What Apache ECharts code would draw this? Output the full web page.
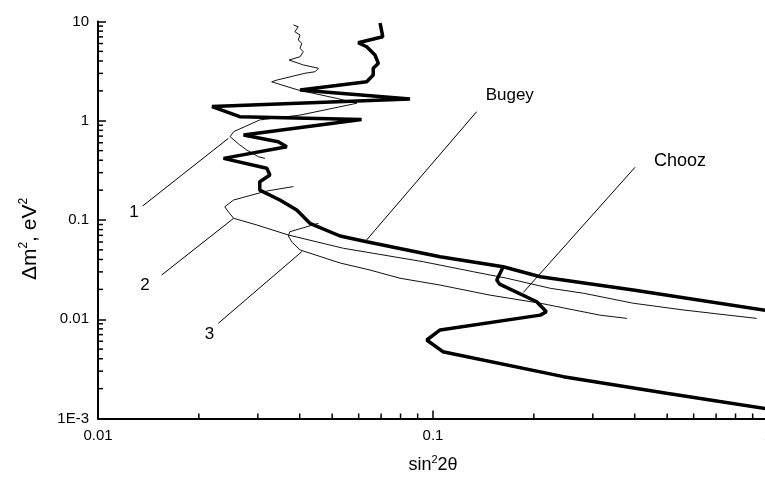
<!DOCTYPE html>
<html>
<head>
<meta charset="utf-8">
<script src="https://cdn.jsdelivr.net/npm/echarts@6/dist/echarts.min.js"></script>
<style>
  html, body { margin: 0; padding: 0; background: #fff; }
  #chart { width: 765px; height: 484px; }
</style>
</head>
<body>
<div id="chart"></div>
<script>
// Bugey (thick line)
var bugeyX = [0.0695, 0.0708, 0.0598, 0.0634, 0.0671, 0.0687, 0.0663, 0.0663, 0.0634, 0.0401, 0.0854, 0.0219, 0.0265, 0.0612, 0.0272, 0.0345, 0.0366, 0.0237, 0.0319, 0.0326, 0.0304, 0.0304, 0.0349, 0.0392, 0.0429, 0.0528, 0.0634, 0.105, 0.162, 0.209, 0.396, 1.0];
var bugeyY = [9.66, 7.03, 6.11, 5.57, 4.60, 3.79, 3.38, 2.89, 2.47, 2.04, 1.66, 1.39, 1.10, 1.03, 0.718, 0.615, 0.548, 0.418, 0.332, 0.284, 0.243, 0.200, 0.159, 0.126, 0.0926, 0.069, 0.0604, 0.0427, 0.0338, 0.0268, 0.0197, 0.0122];

// Chooz (thick line)
var choozX = [0.162, 0.155, 0.158, 0.204, 0.218, 0.209, 0.105, 0.0958, 0.107, 0.245, 0.498, 1.0];
var choozY = [0.0338, 0.0249, 0.0226, 0.0150, 0.0119, 0.0110, 0.0078, 0.00618, 0.00471, 0.00264, 0.00180, 0.00125];

// thin curves 1, 2, 3
var curve1X = [0.0383, 0.0396, 0.0387, 0.0401, 0.0396, 0.0406, 0.0401, 0.0410, 0.0401, 0.0372, 0.0410, 0.0455, 0.0445, 0.0415, 0.0342, 0.0330, 0.0354, 0.0396, 0.0516, 0.0592, 0.0401, 0.0304, 0.0254, 0.0248, 0.0265, 0.0278, 0.0301, 0.0315];
var curve1Y = [9.22, 8.86, 7.89, 7.31, 6.51, 6.03, 5.37, 4.96, 4.42, 4.09, 3.65, 3.38, 3.12, 3.01, 2.57, 2.47, 2.29, 2.04, 1.68, 1.50, 1.14, 1.02, 0.776, 0.691, 0.570, 0.507, 0.434, 0.418];

var curve2X = [0.0383, 0.0322, 0.0301, 0.0254, 0.0239, 0.0245, 0.0254, 0.0298, 0.0370, 0.0540, 0.0663, 0.0935, 0.132, 0.166, 0.224, 0.281, 0.396, 0.559, 0.925];
var curve2Y = [0.217, 0.197, 0.186, 0.159, 0.136, 0.121, 0.104, 0.0891, 0.0706, 0.0519, 0.0462, 0.0380, 0.0301, 0.0259, 0.0205, 0.0183, 0.0145, 0.0124, 0.0102];

var curve3X = [0.0455, 0.0374, 0.0370, 0.0379, 0.0401, 0.0528, 0.0649, 0.0797, 0.105, 0.148, 0.209, 0.315, 0.379];
var curve3Y = [0.0926, 0.0762, 0.069, 0.0600, 0.0499, 0.0369, 0.0313, 0.0259, 0.0221, 0.0175, 0.0145, 0.0110, 0.0102];

// leader lines: [start x, end x], [start y, end y]; label sits at the start
var leaderNames = ['1', '2', '3', 'Bugey', 'Chooz'];
var leaderX = [[0.01359, 0.0245], [0.01549, 0.0254], [0.02286, 0.0406], [0.135, 0.0627], [0.401, 0.186]];
var leaderY = [[0.1384, 0.665], [0.0279, 0.104], [0.0091, 0.0480], [1.234, 0.0604], [0.340, 0.0186]];

// axis ticks
var xTicks = [0.01, 0.1, 1];
var xTickLabels = ['0.01', '0.1', '1'];
var yTicks = [0.001, 0.01, 0.1, 1, 10];
var yTickLabels = ['1E-3', '0.01', '0.1', '1', '10'];
var minorSteps = [2, 3, 4, 5, 6, 7, 8, 9];

var FONT = '"Liberation Sans", Arial, Helvetica, sans-serif';

function zip(xs, ys) {
  return xs.map(function (x, i) { return [x, ys[i]]; });
}

function labelFor(v, ticks, labels) {
  var e = Math.round(Math.log10(v));
  for (var i = 0; i < ticks.length; i++) {
    if (Math.round(Math.log10(ticks[i])) === e) return labels[i];
  }
  return '';
}

// minor ticks (2..9 in every decade), drawn through the axes
var minorData = [];
yTicks.slice(0, -1).forEach(function (d) {
  minorSteps.forEach(function (m) { minorData.push([xTicks[0], d * m, 0]); });
});
xTicks.slice(0, -1).forEach(function (d) {
  minorSteps.forEach(function (m) { minorData.push([d * m, yTicks[0], 1]); });
});

// label placement for the leader lines
var leaderLabel = [
  { position: 'left', distance: 4, offset: [0, 6], fontSize: 17 },
  { position: 'left', distance: 12, offset: [0, 10], fontSize: 17 },
  { position: 'left', distance: 4, offset: [0, 11], fontSize: 17 },
  { position: 'right', distance: 9, offset: [0, -16], fontSize: 17 },
  { position: 'right', distance: 19, offset: [0, -6], fontSize: 18 }
];

var series = [];

series.push({
  name: 'Bugey', type: 'line', data: zip(bugeyX, bugeyY),
  symbol: 'none', lineStyle: { color: '#000', width: 3.5 }, z: 5
});
series.push({
  name: 'Chooz', type: 'line', data: zip(choozX, choozY),
  symbol: 'none', lineStyle: { color: '#000', width: 3.5 }, z: 5
});
[[curve1X, curve1Y], [curve2X, curve2Y], [curve3X, curve3Y]].forEach(function (c, i) {
  series.push({
    name: 'curve' + (i + 1), type: 'line', data: zip(c[0], c[1]),
    symbol: 'none', lineStyle: { color: '#111', width: 1 }, z: 4
  });
});

leaderNames.forEach(function (name, i) {
  var lab = leaderLabel[i];
  series.push({
    name: 'leader ' + name,
    type: 'line',
    symbol: 'circle',
    symbolSize: 0,
    showSymbol: true,
    lineStyle: { color: '#000', width: 1 },
    data: [
      {
        value: [leaderX[i][0], leaderY[i][0]],
        label: {
          show: true, formatter: name, position: lab.position,
          distance: lab.distance, offset: lab.offset,
          color: '#000', fontSize: lab.fontSize, fontFamily: FONT
        }
      },
      [leaderX[i][1], leaderY[i][1]]
    ],
    z: 3
  });
});

series.push({
  name: 'minor ticks',
  type: 'custom',
  coordinateSystem: 'cartesian2d',
  clip: false,
  silent: true,
  data: minorData,
  renderItem: function (params, api) {
    var p = api.coord([api.value(0), api.value(1)]);
    var horiz = api.value(2) === 0;
    return {
      type: 'line',
      shape: { x1: p[0], y1: p[1], x2: horiz ? p[0] + 5 : p[0], y2: horiz ? p[1] : p[1] - 5 },
      style: { stroke: '#000', lineWidth: 1.5 }
    };
  },
  z: 6
});

var chart = echarts.init(document.getElementById('chart'), null, { renderer: 'canvas' });
chart.setOption({
  animation: false,
  backgroundColor: '#fff',
  grid: { left: 98, right: -3, top: 21.5, bottom: 65.5, containLabel: false, outerBoundsMode: 'none' },
  xAxis: {
    type: 'log',
    logBase: 10,
    min: xTicks[0],
    max: xTicks[xTicks.length - 1],
    splitLine: { show: false },
    axisLine: { lineStyle: { color: '#000', width: 2 } },
    axisTick: { inside: true, length: 8, lineStyle: { color: '#000', width: 1.5 } },
    axisLabel: {
      color: '#000', fontSize: 15, fontFamily: FONT, margin: 10,
      formatter: function (v) { return labelFor(v, xTicks, xTickLabels); }
    },
    name: 'sin{sup|2}2θ',
    nameLocation: 'middle',
    nameGap: 36,
    nameTextStyle: {
      color: '#000', fontSize: 18, fontFamily: FONT, lineHeight: 22,
      rich: { sup: { fontSize: 11, lineHeight: 11, verticalAlign: 'top', fontFamily: FONT, color: '#000' } }
    }
  },
  yAxis: {
    type: 'log',
    logBase: 10,
    min: yTicks[0],
    max: yTicks[yTicks.length - 1],
    splitLine: { show: false },
    axisLine: { lineStyle: { color: '#000', width: 2 } },
    axisTick: { inside: true, length: 8, lineStyle: { color: '#000', width: 1.5 } },
    axisLabel: {
      color: '#000', fontSize: 15, fontFamily: FONT, margin: 9,
      formatter: function (v) { return labelFor(v, yTicks, yTickLabels); }
    },
    name: 'Δm{sup|2}, eV{sup|2}',
    nameLocation: 'middle',
    nameRotate: 90,
    nameGap: 56,
    nameTextStyle: {
      color: '#000', fontSize: 21, fontFamily: FONT, lineHeight: 24,
      padding: [0, 38, 0, 0],
      rich: { sup: { fontSize: 12, lineHeight: 12, verticalAlign: 'top', fontFamily: FONT, color: '#000' } }
    }
  },
  series: series
});
</script>
</body>
</html>
